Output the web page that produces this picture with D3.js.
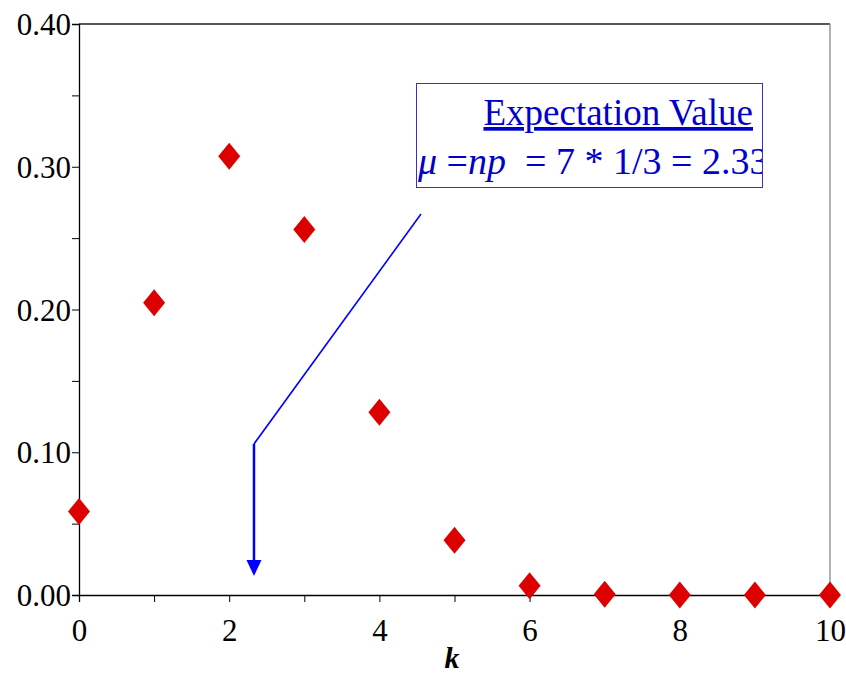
<!DOCTYPE html>
<html>
<head>
<meta charset="utf-8">
<script src="https://cdn.jsdelivr.net/npm/d3@7"></script>
<style>
  body { margin: 0; background: #fff; }
</style>
</head>
<body>
<div id="chart"></div>
<script>
// binomial probabilities, n = 7, p = 1/3
const ks = [0, 1, 2, 3, 4, 5, 6, 7, 8, 9, 10];
const probs = [0.0585, 0.2048, 0.3073, 0.2561, 0.1280, 0.0384, 0.0064, 0.0005, 0, 0, 0];
const yTicks = [0, 0.1, 0.2, 0.3, 0.4];
const xTicks = [0, 2, 4, 6, 8, 10];
const mu = 2.33;

const W = 846, H = 678;
const plotL = 79, plotR = 830, plotT = 24, plotB = 595;
const serif = '"Liberation Serif", "DejaVu Serif", serif';

const svg = d3.select('#chart').append('svg')
  .attr('width', W)
  .attr('height', H)
  .style('font-family', serif);

const x = d3.scaleLinear().domain([0, 10]).range([plotL, plotR]);
const y = d3.scaleLinear().domain([0, 0.4]).range([plotB, plotT]);

// frame top / right
svg.append('line')
  .attr('x1', plotL).attr('x2', plotR).attr('y1', plotT).attr('y2', plotT)
  .attr('stroke', '#222').attr('stroke-width', 1.3);
svg.append('line')
  .attr('x1', plotR).attr('x2', plotR).attr('y1', plotT).attr('y2', plotB)
  .attr('stroke', '#888').attr('stroke-width', 1.3);

// y axis
const yAxis = svg.append('g')
  .attr('transform', `translate(${plotL},0)`)
  .call(d3.axisLeft(y).tickValues(d3.range(0, 0.401, 0.05)).tickSize(7)
    .tickFormat(d => yTicks.some(t => Math.abs(t - d) < 1e-9) ? d.toFixed(2) : ''));
yAxis.attr('font-family', null);
yAxis.select('.domain').attr('stroke', '#000').attr('stroke-width', 1.3);
yAxis.selectAll('.tick line').attr('stroke', '#000');
yAxis.selectAll('.tick text')
  .attr('x', -8).attr('dy', '0.34em')
  .style('font-family', serif)
  .style('font-size', '31px').attr('fill', '#000');

// x axis
const xAxis = svg.append('g')
  .attr('transform', `translate(0,${plotB})`)
  .call(d3.axisBottom(x).tickValues(ks).tickSize(7)
    .tickFormat(d => xTicks.includes(d) ? d : ''));
xAxis.attr('font-family', null);
xAxis.select('.domain').attr('stroke', '#000').attr('stroke-width', 1.3);
xAxis.selectAll('.tick line').attr('stroke', '#000');
xAxis.selectAll('.tick text')
  .attr('y', 35).attr('dy', '0.34em')
  .style('font-family', serif)
  .style('font-size', '31px').attr('fill', '#000');

svg.append('text')
  .attr('x', 452).attr('y', 668)
  .attr('text-anchor', 'middle')
  .style('font-family', serif)
  .style('font-size', '30px').style('font-weight', 'bold').style('font-style', 'italic')
  .text('k');

// diamonds
svg.selectAll('path.pt')
  .data(ks.map((k, i) => ({ k, p: probs[i] })))
  .enter().append('path')
  .attr('class', 'pt')
  .attr('d', d => {
    const cx = x(d.k), cy = y(d.p);
    return `M${cx},${cy - 13.5}L${cx + 11},${cy}L${cx},${cy + 13.5}L${cx - 11},${cy}Z`;
  })
  .attr('fill', '#dd0000');

// annotation arrow
const ax = x(mu);
svg.append('polyline')
  .attr('points', `421,214 ${ax},444`)
  .attr('fill', 'none').attr('stroke', '#0000ff').attr('stroke-width', 1.6);
svg.append('line')
  .attr('x1', ax).attr('x2', ax).attr('y1', 444).attr('y2', 562)
  .attr('stroke', '#0000ff').attr('stroke-width', 2.5);
svg.append('path')
  .attr('d', `M${ax - 7.5},560L${ax + 7.5},560L${ax},576Z`)
  .attr('fill', '#0000ff');

// annotation box
svg.append('clipPath').attr('id', 'boxclip')
  .append('rect').attr('x', 416).attr('y', 83).attr('width', 346).attr('height', 104);
svg.append('rect')
  .attr('x', 416.5).attr('y', 83.5).attr('width', 346).attr('height', 104)
  .attr('fill', '#fff').attr('stroke', '#3333cc').attr('stroke-width', 1);
const ann = svg.append('g').attr('clip-path', 'url(#boxclip)');
ann.append('text')
  .attr('x', 753).attr('y', 125)
  .attr('text-anchor', 'end')
  .attr('fill', '#0000cc')
  .style('font-family', serif)
  .style('font-size', '37px')
  .style('text-decoration', 'underline')
  .text('Expectation Value');
const eq = ann.append('text')
  .attr('x', 418).attr('y', 174)
  .attr('fill', '#0000cc')
  .style('font-family', serif)
  .style('font-size', '38px')
  .attr('xml:space', 'preserve');
eq.append('tspan').style('font-style', 'italic').text('\u03bc');
eq.append('tspan').text(' =');
eq.append('tspan').style('font-style', 'italic').text('np');
eq.append('tspan').text('  = 7 * 1/3 = 2.33');
</script>
</body>
</html>
